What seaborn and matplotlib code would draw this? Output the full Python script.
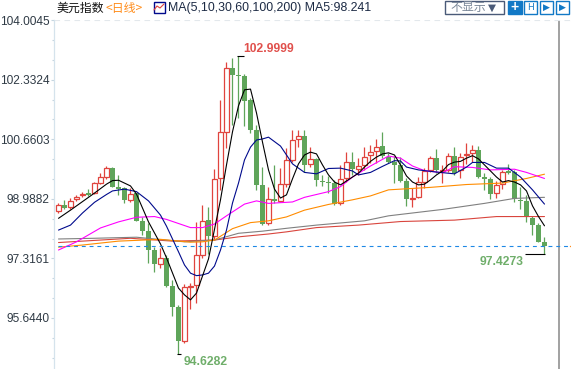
import matplotlib
matplotlib.use("Agg")
import matplotlib.pyplot as plt
from matplotlib.patches import Rectangle
import pandas as pd
import seaborn as sns

body_top = [98.81,98.81,98.94,99.05,99.12,99.15,99.42,99.59,99.85,99.85,99.31,99.28,99.12,99.14,98.37,98.08,97.55,97.32,97.32,96.54,
            95.94,96.50,96.54,97.41,98.37,98.39,99.54,100.86,102.65,102.65,102.47,102.44,101.76,100.92,99.38,98.98,98.98,99.40,100.08,100.64,
            100.75,100.75,100.11,100.11,99.50,99.46,99.42,99.54,100.01,100.01,99.92,100.17,100.29,100.45,100.47,100.17,100.03,99.95,99.49,99.00,
            99.45,99.77,100.13,100.13,99.80,100.19,100.19,100.17,100.24,100.36,100.36,99.59,99.54,99.37,99.73,99.77,99.73,98.96,98.94,98.44,98.24,97.78]
body_bot = [98.65,98.74,98.75,98.97,99.09,99.10,99.14,99.44,99.61,99.33,99.26,98.96,98.96,98.37,98.09,97.55,97.16,97.16,96.54,95.96,
            95.00,95.00,96.51,96.57,97.41,97.94,97.94,99.56,100.87,102.47,102.45,101.74,100.92,99.38,98.28,98.30,98.93,98.94,99.40,100.08,
            100.66,99.94,99.96,99.52,99.47,99.44,98.84,98.88,99.56,99.82,99.83,99.94,100.21,100.32,100.19,100.03,99.95,99.49,98.98,98.99,
            99.03,99.47,99.80,99.80,99.78,99.80,99.71,99.80,100.21,100.27,99.61,99.55,99.12,99.14,99.40,99.71,98.98,98.94,98.47,98.25,97.78,97.66]
highs = [98.87,98.96,99.01,99.10,99.17,99.26,99.47,99.70,99.91,99.87,99.66,99.31,99.28,99.16,98.49,98.31,97.64,97.62,97.41,96.71,
         96.01,96.59,96.63,98.34,98.81,98.77,99.83,101.76,102.84,102.94,103.00,102.49,101.81,101.06,99.89,99.33,99.94,99.85,100.41,100.92,
         100.92,100.92,100.43,100.14,99.66,99.63,99.52,99.94,100.29,100.29,100.13,100.45,100.50,100.66,100.86,100.27,100.19,100.17,99.56,99.28,
         99.61,99.85,100.19,100.38,99.94,100.28,100.44,100.27,100.55,100.50,100.47,99.72,99.61,99.50,99.80,99.97,99.80,99.31,99.10,98.51,98.30,97.91]
lows = [98.59,98.70,98.70,98.94,99.03,99.07,99.11,99.40,99.55,99.31,99.10,98.88,98.89,98.36,97.96,97.19,96.94,97.04,96.50,95.70,
        94.63,94.94,95.89,96.06,97.32,97.44,97.83,99.24,100.42,101.06,101.25,101.03,100.85,99.24,98.25,98.25,98.86,98.91,99.33,100.03,
        100.45,99.75,99.89,99.35,99.35,99.14,98.81,98.81,99.47,99.66,99.66,99.80,99.99,100.00,100.13,99.99,99.42,99.47,98.79,98.75,
        99.00,99.28,99.75,99.72,99.44,99.75,99.66,99.56,99.97,100.03,99.56,99.24,98.97,99.00,99.26,99.68,98.91,98.70,98.35,97.97,97.77,97.43]
up_days = [0,2,3,4,6,7,8,12,17,21,22,23,24,26,27,28,35,37,38,39,40,42,47,48,50,51,52,53,59,60,61,62,64,65,67,68,69,73,74]

ma5_idx = [0,2,4,6,8,9,10,12,13,15,17,18,20,21,22,23,25,27,28,29,30,31,32,33,34,35,36,37,38,39,40,41,42,43,44,45,46,47,48,49,50,
           51,52,53,54,55,56,57,58,59,60,61,62,63,64,65,66,67,68,69,70,71,72,73,74,75,76,77,78,79,80,81]
ma5_val = [98.44,98.67,98.91,99.15,99.40,99.50,99.51,99.35,99.12,98.34,97.72,97.33,96.48,96.29,96.15,96.34,97.30,98.96,99.94,100.87,101.60,
           102.05,102.07,101.40,100.58,99.80,99.26,99.01,99.10,99.55,99.97,100.22,100.30,100.25,99.94,99.66,99.46,99.38,99.49,99.60,99.71,
           99.88,100.04,100.16,100.25,100.28,100.22,99.94,99.63,99.46,99.38,99.40,99.52,99.66,99.77,99.95,100.02,100.04,100.13,100.20,100.11,
           99.94,99.77,99.60,99.46,99.50,99.46,99.38,99.21,98.79,98.49,98.23]
ma10_idx = [0,2,4,6,8,9,11,13,15,17,18,19,20,21,22,23,24,25,26,27,28,29,30,31,32,33,34,35,37,39,41,43,45,47,49,50,52,54,56,57,58,60,63,66,68,69,71,73,75,77,79,81]
ma10_val = [98.11,98.25,98.59,98.89,99.11,99.21,99.26,99.19,98.93,98.53,98.22,97.86,97.50,97.13,96.90,96.83,96.85,96.90,97.10,97.55,98.11,98.87,99.43,100.08,100.44,100.64,
            100.67,100.72,100.47,99.97,99.73,99.69,99.84,99.85,99.77,99.66,99.73,99.90,100.06,100.05,99.88,99.80,99.74,99.69,99.88,100.01,100.01,99.85,99.85,99.60,99.24,98.84]
ma30_idx = [0,3,7,10,13,16,18,22,24,26,28,31,33,35,39,41,45,47,49,52,55,57,59,61,64,66,69,72,76,78,81]
ma30_val = [97.55,97.78,98.17,98.34,98.47,98.49,98.41,98.18,98.18,98.28,98.51,98.84,98.93,98.86,98.90,99.03,99.19,99.33,99.60,99.91,100.19,100.13,99.91,99.78,99.72,99.89,99.87,99.80,99.82,99.73,99.56]
ma60_idx = [0,4,10,17,22,24,26,29,32,35,38,41,45,49,52,55,62,68,74,78,81]
ma60_val = [97.63,97.69,97.80,97.85,97.77,97.78,97.83,98.15,98.32,98.37,98.48,98.67,98.83,98.96,99.07,99.24,99.31,99.39,99.43,99.56,99.68]
ma100_idx = [0,6,13,16,21,26,30,34,38,43,51,55,64,71,76,81]
ma100_val = [97.86,97.88,97.91,97.86,97.78,97.83,98.02,98.08,98.16,98.25,98.37,98.51,98.69,98.86,99.00,99.03]
ma200_idx = [0,7,12,19,26,30,35,38,43,50,57,66,73,81]
ma200_val = [97.76,97.83,97.88,97.80,97.83,97.92,98.00,98.06,98.18,98.25,98.35,98.39,98.49,98.49]

y_ticks = [104.0045, 102.3324, 100.6603, 98.9882, 97.3161, 95.6440]
high_label, low_label, last_low_label, last_close = 102.9999, 94.6282, 97.4273, 97.66
title_name, title_period, title_ma = "美元指数", "<日线>", "MA(5,10,30,60,100,200) MA5:98.241"

W, H = 571, 369
sns.set_theme(style="white")
LATIN = ["Liberation Sans", "DejaVu Sans"]
CJK = ["Noto Sans CJK SC", "Liberation Sans"]
plt.rcParams["font.family"] = LATIN
RED, GREEN = "#e0443e", "#5fa55a"

fig = plt.figure(figsize=(W / 100, H / 100), dpi=100, facecolor="white")
ax = fig.add_axes([54 / W, 0, (W - 54) / W, (H - 20) / H])
ax.set_xlim(-0.75, 85.417)
ax.set_ylim(94.208, 104.011)

for i in range(len(highs)):
    up = i in up_days
    col = RED if up else GREEN
    h = max(body_top[i] - body_bot[i], 0.012)
    ax.vlines(i, lows[i], highs[i], color=col, lw=0.9, zorder=2)
    if up:
        ax.bar(i, h, bottom=body_bot[i], width=0.7, facecolor="white", edgecolor=col, linewidth=0.9, zorder=3)
    else:
        ax.bar(i, h, bottom=body_bot[i], width=0.85, color=col, linewidth=0, zorder=3)

ma_sets = [(ma200_idx, ma200_val, "#d9453d"), (ma100_idx, ma100_val, "#808080"), (ma60_idx, ma60_val, "#ff8c00"),
           (ma30_idx, ma30_val, "#ff00ff"), (ma10_idx, ma10_val, "#000a8c"), (ma5_idx, ma5_val, "#000000")]
for idx, val, col in ma_sets:
    sns.lineplot(data=pd.DataFrame({"d": idx, "v": val}), x="d", y="v", color=col, lw=0.8, ax=ax,
                 estimator=None, sort=False, zorder=4, legend=False)

ax.axhline(last_close, xmin=0.008, color="#1e88e5", lw=0.8, dashes=(3.5, 3.5), zorder=5)
ax.axvline(83.47, color="#9a9a9a", lw=1.3, zorder=1)
ax.axhline(y_ticks[0], color="#e3e8ec", lw=0.8, dashes=(5, 4), zorder=1)

ax.hlines(high_label, 29.8, 30.9, color="black", lw=0.8, zorder=6)
ax.hlines(low_label, 19.7, 20.4, color="black", lw=0.8, zorder=6)
ax.hlines(last_low_label, 77.8, 81.1, color="black", lw=0.8, zorder=6)
ax.text(30.8, high_label + 0.2, f"{high_label:.4f}", color="#e0504c", fontsize=8.7, fontweight="bold", va="center")
ax.text(20.8, low_label - 0.23, f"{low_label:.4f}", color="#6fae6a", fontsize=8.7, fontweight="bold", va="center")
ax.text(70.2, last_low_label - 0.2, f"{last_low_label:.4f}", color="#6fae6a", fontsize=8.7, fontweight="bold", va="center")

ax.set_xticks([])
ax.set_yticks(y_ticks)
ax.set_yticklabels([f"{t:.4f}" for t in y_ticks], fontsize=8.6, color="#2f3a45")
minor = [y_ticks[0] - k * (y_ticks[0] - y_ticks[1]) / 3 for k in range(1, 18) if k % 3]
ax.set_yticks(minor, minor=True)
ax.tick_params(axis="y", which="major", length=2.5, width=0.8, color="#c6d6e0", pad=0.5, left=True)
ax.tick_params(axis="y", which="minor", length=1.8, width=0.8, color="#c6d6e0", left=True)
ax.set_xlabel("")
ax.set_ylabel("")
for s in ["top", "right", "bottom"]:
    ax.spines[s].set_visible(False)
ax.spines["left"].set_color("#d5e3ec")
ax.spines["left"].set_linewidth(0.9)

ov = fig.add_axes([0, 0, 1, 1], facecolor="none")
ov.set_xlim(0, W)
ov.set_ylim(H, 0)
ov.axis("off")
ov.text(56.5, 8.5, title_name, family=CJK, fontsize=8.6, color="#111111", va="center")
ov.text(105, 8.5, title_period, family=CJK, fontsize=8.6, color="#ff8c1a", va="center")
ov.add_patch(Rectangle((153.5, 1.5), 11, 11, fc="white", ec="#000a8c", lw=1))
ov.plot([154, 157, 160, 164], [10, 6, 8, 4], color="#e0443e", lw=0.8)
ov.text(168, 8.5, title_ma, family=LATIN, fontsize=8.95, color="#1c2a44", va="center")
ov.add_patch(Rectangle((444.5, 0.5), 59, 13.5, fc="white", ec="#4a5a78", lw=1))
ov.text(450, 7.5, "不显示", family=CJK, fontsize=8.6, color="#7a8798", va="center")
ov.text(488, 7.5, "▼", family=["DejaVu Sans"], fontsize=7.5, color="#4a5a78", va="center")
ov.add_patch(Rectangle((507.5, 0.5), 14, 13, fc="#1279c6", ec="#1279c6", lw=1))
ov.text(514.5, 7, "+", color="white", fontsize=10, fontweight="bold", ha="center", va="center")
for x0, glyph in [(523.5, "H"), (539.5, "▶"), (556, "▶")]:
    ov.add_patch(Rectangle((x0, 0.5), 13, 13, fc="white", ec="#1279c6", lw=1))
    ov.text(x0 + 6.5, 7, glyph, family=["DejaVu Sans"], color="#1279c6", fontsize=6.5, ha="center", va="center")
ov.plot([569.5, 571], [246.3, 246.3], color="#ff8c1a", lw=1)

fig.savefig("out.png", dpi=100, facecolor="white")
